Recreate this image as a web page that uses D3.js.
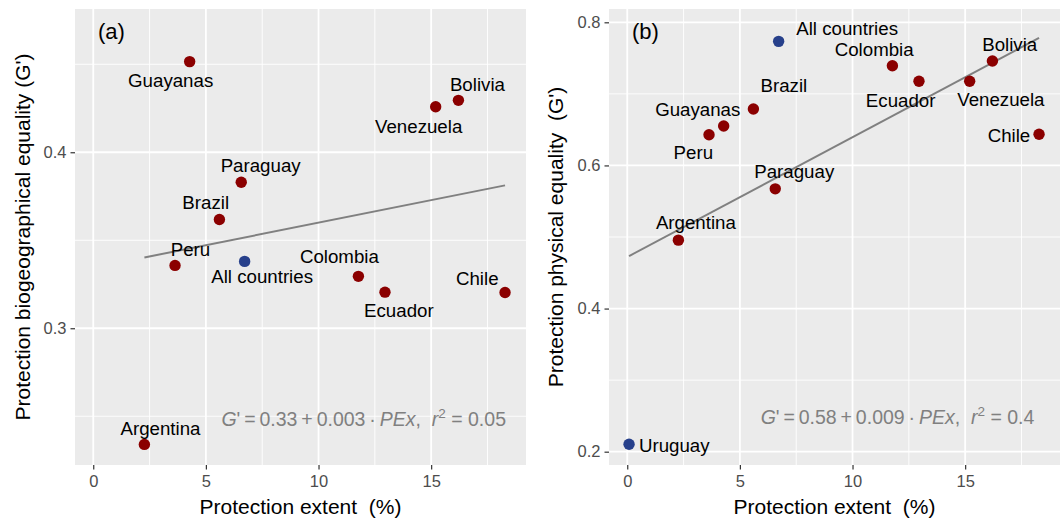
<!DOCTYPE html>
<html>
<head>
<meta charset="utf-8">
<script src="https://cdn.jsdelivr.net/npm/d3@7/dist/d3.min.js"></script>
<style>
  html, body { margin: 0; padding: 0; background: #ffffff; }
  svg { display: block; font-family: "Liberation Sans", Arial, Helvetica, sans-serif; }
  svg text { white-space: pre; }
</style>
</head>
<body>
<svg id="chart" width="1063" height="523"></svg>
<script>
// ---------------- data ----------------
const countries = ["Argentina", "Bolivia", "Brazil", "Chile", "Colombia", "Ecuador",
                   "Guayanas", "Paraguay", "Peru", "Venezuela", "Uruguay", "All countries"];
const protectionExtent = [2.27, 16.21, 5.60, 18.28, 11.77, 12.95, 4.28, 6.57, 3.63, 15.20, 0.08, 6.72];
const bioEquality  = [0.2340, 0.4295, 0.3618, 0.3203, 0.3295, 0.3205, 0.4515, 0.3830, 0.3357, 0.4259, null, 0.3380];
const physEquality = [0.4956, 0.7459, 0.6788, 0.6435, 0.7394, 0.7176, 0.6551, 0.5673, 0.6429, 0.7176, 0.2103, 0.7734];
const pointGroup   = ["country", "country", "country", "country", "country", "country",
                      "country", "country", "country", "country", "highlight", "aggregate"];

const xTicks = [0, 5, 10, 15];
const xMinor = [2.5, 7.5, 12.5, 17.5];
const yTicksA = [0.3, 0.4];
const yMinorA = [0.25, 0.35, 0.45];
const yTicksB = [0.2, 0.4, 0.6, 0.8];
const yMinorB = [0.3, 0.5, 0.7];

const panelTags = ["(a)", "(b)"];
const yTitles = ["Protection biogeographical equality (G')", "Protection physical equality  (G')"];
const xTitle = "Protection extent  (%)";
const eqIntercept = ["0.33", "0.58"];
const eqSlope = ["0.003", "0.009"];
const eqR2 = ["0.05", "0.4"];

// ---------------- layout (label nudges in px: [dx of label centre, dy of baseline]) ----------------
const nudgeA = {
  "Guayanas": [-19, 25.6], "Bolivia": [19, -9.3], "Venezuela": [-17, 26.6], "Paraguay": [19.4, -10],
  "Brazil": [-13.7, -10.4], "Peru": [15.5, -9], "All countries": [17.5, 22], "Colombia": [-19, -13],
  "Ecuador": [13.9, 24.4], "Chile": [-27.8, -8], "Argentina": [16.1, -9.7]
};
const nudgeB = {
  "All countries": [68.5, -6], "Colombia": [-18.2, -9.6], "Bolivia": [17.3, -10.3], "Brazil": [30.5, -17.3],
  "Guayanas": [-25.9, -10.3], "Ecuador": [-18.3, 25.4], "Venezuela": [31.2, 24.7], "Chile": [-30.1, 7.4],
  "Peru": [-15.7, 24.6], "Paraguay": [19, -11], "Argentina": [17.5, -10.7], "Uruguay": [45.2, 8]
};

const colors = { country: "#8B0000", highlight: "#27408B", aggregate: "#27408B" };

const svg = d3.select("#chart");

function fit(xs, ys) {
  const n = xs.length;
  const mx = d3.mean(xs), my = d3.mean(ys);
  let sxy = 0, sxx = 0;
  for (let i = 0; i < n; i++) { sxy += (xs[i] - mx) * (ys[i] - my); sxx += (xs[i] - mx) ** 2; }
  const b = sxy / sxx;
  return { a: my - b * mx, b };
}

function drawPanel(cfg) {
  const { left, right, top, bottom, yDomain, yTicks, yMinor, yVals, nudge, idx } = cfg;
  const x = d3.scaleLinear().domain([-0.81, 19.21]).range([left, right]);
  const y = d3.scaleLinear().domain(yDomain).range([bottom, top]);
  const g = svg.append("g");

  g.append("rect").attr("x", left).attr("y", top).attr("width", right - left).attr("height", bottom - top)
    .attr("fill", "#EBEBEB");

  // minor grid
  g.selectAll(".vminor").data(xMinor).enter().append("line")
    .attr("x1", d => x(d)).attr("x2", d => x(d)).attr("y1", top).attr("y2", bottom)
    .attr("stroke", "#fff").attr("stroke-width", 0.9);
  g.selectAll(".hminor").data(yMinor).enter().append("line")
    .attr("x1", left).attr("x2", right).attr("y1", d => y(d)).attr("y2", d => y(d))
    .attr("stroke", "#fff").attr("stroke-width", 0.9);
  // major grid
  g.selectAll(".vmajor").data(xTicks).enter().append("line")
    .attr("x1", d => x(d)).attr("x2", d => x(d)).attr("y1", top).attr("y2", bottom)
    .attr("stroke", "#fff").attr("stroke-width", 1.8);
  g.selectAll(".hmajor").data(yTicks).enter().append("line")
    .attr("x1", left).attr("x2", right).attr("y1", d => y(d)).attr("y2", d => y(d))
    .attr("stroke", "#fff").attr("stroke-width", 1.8);

  // axes
  const xAxis = d3.axisBottom(x).tickValues(xTicks).tickSize(4.5).tickPadding(6).tickFormat(d3.format("d"));
  const gx = g.append("g").attr("transform", `translate(0,${bottom})`).call(xAxis);
  gx.select(".domain").remove();
  gx.selectAll("line").attr("stroke", "#333").attr("stroke-width", 1.2);
  gx.selectAll("text").attr("fill", "#4D4D4D").attr("font-size", 16.5).attr("font-family", null);

  const yAxis = d3.axisLeft(y).tickValues(yTicks).tickSize(4.5).tickPadding(4).tickFormat(d3.format(".1f"));
  const gy = g.append("g").attr("transform", `translate(${left},0)`).call(yAxis);
  gy.select(".domain").remove();
  gy.selectAll("line").attr("stroke", "#333").attr("stroke-width", 1.2);
  gy.selectAll("text").attr("fill", "#4D4D4D").attr("font-size", 16.5).attr("font-family", null);

  // titles
  g.append("text").attr("x", (left + right) / 2).attr("y", 514).attr("text-anchor", "middle")
    .attr("font-size", 21).attr("fill", "#000").text(xTitle);
  g.append("text").attr("transform", `translate(${cfg.yTitleX},${(top + bottom) / 2}) rotate(-90)`)
    .attr("text-anchor", "middle").attr("font-size", 21).attr("fill", "#000").text(yTitles[idx]);

  // data rows
  const rows = countries.map((c, i) => ({ c, x: protectionExtent[i], y: yVals[i], grp: pointGroup[i] }))
    .filter(d => d.y !== null);

  // regression line (OLS over countries, excluding aggregate)
  const fitRows = rows.filter(d => d.grp !== "aggregate");
  const f = fit(fitRows.map(d => d.x), fitRows.map(d => d.y));
  const xr = d3.extent(fitRows, d => d.x);
  g.append("line").attr("x1", x(xr[0])).attr("y1", y(f.a + f.b * xr[0]))
    .attr("x2", x(xr[1])).attr("y2", y(f.a + f.b * xr[1]))
    .attr("stroke", "#808080").attr("stroke-width", 2);

  // points
  g.selectAll(".pt").data(rows).enter().append("circle")
    .attr("cx", d => x(d.x)).attr("cy", d => y(d.y)).attr("r", 5.7)
    .attr("fill", d => colors[d.grp]);

  // labels
  g.selectAll(".lab").data(rows).enter().append("text")
    .attr("x", d => x(d.x) + nudge[d.c][0]).attr("y", d => y(d.y) + nudge[d.c][1])
    .attr("text-anchor", "middle").attr("font-size", 18.7).attr("fill", "#000").text(d => d.c);

  // tag
  g.append("text").attr("x", left + cfg.tagDx).attr("y", 38.5).attr("font-size", 22).attr("fill", "#000")
    .text(panelTags[idx]);

  // equation
  const eq = g.append("text").attr("x", cfg.eqX).attr("y", cfg.eqY).attr("text-anchor", "middle")
    .attr("font-size", 19.5).attr("fill", "#808080");
  const th = "\u2009";
  eq.append("tspan").attr("font-style", "italic").text("G");
  eq.append("tspan").text("'" + th + "=" + th + eqIntercept[idx] + th + "+" + th + eqSlope[idx] + th + "\u00B7" + th);
  eq.append("tspan").attr("font-style", "italic").text("PEx");
  eq.append("tspan").text(",  ");
  eq.append("tspan").attr("font-style", "italic").text("r");
  eq.append("tspan").attr("font-size", 13.5).attr("dy", -8).text("2");
  eq.append("tspan").attr("dy", 8).text(" = " + eqR2[idx]);
}

drawPanel({ left: 75, right: 526, top: 9, bottom: 465, yDomain: [0.2223, 0.4814],
  yTicks: yTicksA, yMinor: yMinorA, yVals: bioEquality, nudge: nudgeA, idx: 0,
  yTitleX: 30, tagDx: 23, eqX: 363.7, eqY: 425.7 });
drawPanel({ left: 609, right: 1060, top: 9, bottom: 465, yDomain: [0.1814, 0.8186],
  yTicks: yTicksB, yMinor: yMinorB, yVals: physEquality, nudge: nudgeB, idx: 1,
  yTitleX: 563, tagDx: 23, eqX: 897.5, eqY: 424 });
</script>
</body>
</html>
